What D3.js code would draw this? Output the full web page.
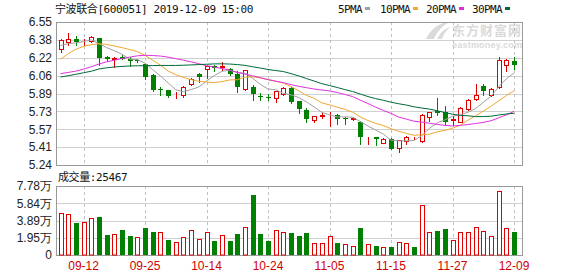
<!DOCTYPE html>
<html>
<head>
<meta charset="utf-8">
<script src="https://cdn.jsdelivr.net/npm/d3@7"></script>
<style>
  body { margin: 0; background: #fff; }
  svg { display: block; }
</style>
</head>
<body>
<svg width="578" height="276"></svg>
<script>
const dates = ["09-09","09-10","09-11","09-12","09-16","09-17","09-18","09-19","09-20","09-23",
  "09-24","09-25","09-26","09-27","09-30","10-08","10-09","10-10","10-11","10-14",
  "10-15","10-16","10-17","10-18","10-21","10-22","10-23","10-24","10-25","10-28",
  "10-29","10-30","10-31","11-01","11-04","11-05","11-06","11-07","11-08","11-11",
  "11-12","11-13","11-14","11-15","11-18","11-19","11-20","11-21","11-22","11-25",
  "11-26","11-27","11-28","11-29","12-02","12-03","12-04","12-05","12-06","12-09"];

const open = [6.303,6.367,6.394,6.375,6.376,6.40,6.232,6.21,6.225,6.21,
  6.20,6.165,6.062,5.935,5.925,5.87,5.884,5.982,6.07,6.117,
  6.15,6.14,6.12,6.07,5.94,5.95,5.875,5.867,5.855,5.895,
  5.945,5.825,5.74,5.655,5.692,5.698,5.70,5.675,5.662,5.635,
  5.495,5.497,5.445,5.48,5.395,5.46,5.486,5.46,5.68,5.738,
  5.725,5.655,5.635,5.757,5.848,5.965,5.88,5.952,6.155,6.19];
const high = [6.394,6.446,6.424,6.394,6.42,6.40,6.24,6.23,6.245,6.23,
  6.215,6.17,6.07,5.955,5.93,5.91,5.96,6.04,6.08,6.15,
  6.16,6.18,6.13,6.10,6.11,5.97,5.90,5.89,5.92,5.955,
  5.95,5.83,5.76,5.69,5.72,5.73,5.71,5.68,5.68,5.64,
  5.50,5.50,5.485,5.49,5.47,5.51,5.50,5.71,5.73,5.855,
  5.78,5.69,5.775,5.845,5.98,5.985,5.945,6.23,6.21,6.23];
const low = [6.278,6.339,6.339,6.339,6.37,6.156,6.19,6.14,6.21,6.15,
  6.18,6.03,5.92,5.88,5.865,5.855,5.865,5.97,6.00,6.04,
  6.10,6.11,6.06,5.91,5.93,5.84,5.84,5.84,5.82,5.885,
  5.81,5.715,5.635,5.63,5.675,5.60,5.62,5.62,5.65,5.435,
  5.43,5.425,5.44,5.385,5.36,5.43,5.475,5.455,5.645,5.70,
  5.62,5.605,5.63,5.745,5.84,5.88,5.875,5.945,6.10,6.12];
const close = [6.385,6.394,6.364,6.378,6.41,6.217,6.208,6.22,6.215,6.19,
  6.195,6.043,5.924,5.93,5.872,5.875,5.952,6.025,6.05,6.144,
  6.125,6.145,6.075,5.95,6.11,5.89,5.87,5.862,5.915,5.945,
  5.82,5.75,5.66,5.685,5.697,5.702,5.66,5.662,5.667,5.495,
  5.50,5.475,5.476,5.39,5.466,5.50,5.488,5.70,5.725,5.717,
  5.635,5.66,5.765,5.84,5.884,5.92,5.935,6.20,6.205,6.155];
const volume = [47900,46000,36300,37400,41200,42700,22500,23600,28100,21300,
  19800,30300,25800,25800,16900,14600,20200,28100,18000,25800,
  15700,22500,15700,23600,31500,67400,23600,15700,28100,25800,
  24700,21300,24700,13500,13500,21300,13500,12400,10100,30300,
  12400,10100,9000,9000,14600,13500,9000,56200,25800,27000,
  29200,16900,25800,25800,31500,27000,21300,71900,30300,25467];

const ma5 = [6.336,6.350,6.360,6.370,6.386,6.353,6.315,6.287,6.254,6.210,
  6.206,6.173,6.113,6.056,5.993,5.929,5.911,5.931,5.955,6.009,
  6.059,6.098,6.108,6.088,6.081,6.034,5.979,5.936,5.929,5.896,
  5.882,5.858,5.818,5.772,5.722,5.699,5.681,5.681,5.678,5.637,
  5.597,5.560,5.523,5.467,5.461,5.461,5.464,5.509,5.576,5.626,
  5.653,5.687,5.700,5.723,5.757,5.814,5.869,5.956,6.029,6.083];
const ma10 = [6.208,6.260,6.300,6.327,6.342,6.350,6.345,6.330,6.315,6.298,
  6.279,6.244,6.200,6.155,6.101,6.067,6.042,6.022,6.006,6.001,
  5.994,6.004,6.019,6.021,6.045,6.047,6.038,6.022,6.009,5.989,
  5.958,5.919,5.877,5.851,5.809,5.791,5.770,5.750,5.725,5.680,
  5.648,5.620,5.602,5.572,5.549,5.529,5.512,5.516,5.522,5.544,
  5.557,5.576,5.605,5.650,5.691,5.733,5.778,5.828,5.876,5.920];
const ma20 = [6.077,6.088,6.100,6.118,6.140,6.165,6.185,6.200,6.215,6.228,
  6.240,6.245,6.243,6.238,6.228,6.214,6.200,6.185,6.168,6.150,
  6.137,6.124,6.110,6.088,6.073,6.057,6.040,6.022,6.007,5.995,
  5.976,5.961,5.948,5.936,5.927,5.919,5.904,5.886,5.867,5.834,
  5.803,5.770,5.740,5.712,5.679,5.660,5.641,5.633,5.623,5.612,
  5.603,5.598,5.603,5.611,5.620,5.631,5.645,5.672,5.699,5.732];
const ma30 = [6.046,6.058,6.071,6.085,6.099,6.120,6.130,6.138,6.143,6.147,
  6.149,6.150,6.151,6.152,6.152,6.152,6.154,6.157,6.160,6.163,
  6.166,6.167,6.165,6.160,6.153,6.140,6.128,6.115,6.105,6.096,
  6.077,6.056,6.032,6.009,5.985,5.968,5.950,5.931,5.913,5.890,
  5.867,5.848,5.833,5.815,5.801,5.789,5.773,5.762,5.752,5.737,
  5.721,5.705,5.695,5.691,5.683,5.684,5.687,5.698,5.707,5.714];

const priceTickLabels = ["5.24","5.41","5.57","5.73","5.89","6.06","6.22","6.38","6.55"];
const volTickLabels = ["0","1.95万","3.89万","5.84万","7.78万"];
const xTickLabels = ["09-12","09-25","10-14","10-24","11-05","11-15","11-27","12-09"];
const maNames = ["5PMA","10PMA","20PMA","30PMA"];

const title = "宁波联合[600051] 2019-12-09 15:00";
const volTitle = "成交量:25467";

const PRICE_MIN = 5.24, PRICE_MAX = 6.55, VOL_MAX = 77800;
const LEFT = 56, RIGHT = 522,
      PRICE_TOP = 22, PRICE_BOTTOM = 165,
      VOL_TOP = 186, VOL_BOTTOM = 255;
const RED = "#e00000", GREEN = "#008000";
const maColors = ["#a0a0a0", "#f0a830", "#e030e0", "#006a3a"];
const AXIS_FONT = "'Liberation Sans', Arial, sans-serif";
const MONO_FONT = "'DejaVu Sans Mono', 'Noto Sans CJK SC', monospace";

const svg = d3.select("svg");

const x = d3.scalePoint().domain(dates).range([60.5, 514]);
const y = d3.scaleLinear().domain([PRICE_MIN, PRICE_MAX]).range([PRICE_BOTTOM, PRICE_TOP]);
const yv = d3.scaleLinear().domain([0, VOL_MAX]).range([VOL_BOTTOM, VOL_TOP]);

const px = i => Math.round(x(dates[i]));   // pixel column of a bar
const crisp = v => Math.round(v) + 0.5;

// watermark
const wm = svg.append("g").attr("fill", "#dadada");
wm.append("path")
  .attr("d", "M426,39 C430,30 438,23 449,22 C441,27 437,32 434,39 Z M437,39 C440,33 444,29 450,27 C446,31 443,35 442,39 Z");
wm.append("text").attr("x", 452).attr("y", 35)
  .attr("font-family", "'Noto Sans CJK SC', sans-serif").attr("font-size", 13).attr("font-weight", "bold")
  .attr("textLength", 69).text("东方财富网");
wm.append("text").attr("x", 452).attr("y", 48)
  .attr("font-family", AXIS_FONT).attr("font-size", 9).attr("font-weight", "bold")
  .attr("textLength", 70).text("eastmoney.com");

// grids
function grid(yScale, vals, top, bottom) {
  const g = svg.append("g");
  g.selectAll("line.h").data(vals).join("line")
    .attr("x1", LEFT).attr("x2", RIGHT)
    .attr("y1", d => crisp(yScale(d))).attr("y2", d => crisp(yScale(d)))
    .attr("stroke", "#d0d0d0");
  g.selectAll("line.v").data(xTickLabels).join("line")
    .attr("x1", d => crisp(x(d))).attr("x2", d => crisp(x(d)))
    .attr("y1", top).attr("y2", bottom)
    .attr("stroke", "#c0c0c0").attr("stroke-dasharray", "3,3");
  g.append("rect")
    .attr("x", LEFT + 0.5).attr("y", top + 0.5)
    .attr("width", RIGHT - LEFT).attr("height", bottom - top)
    .attr("fill", "none").attr("stroke", "#999");
}
const priceTicks = priceTickLabels.map((t, i) => PRICE_MIN + i * (PRICE_MAX - PRICE_MIN) / 8);
const volTicks = volTickLabels.map((t, i) => i * VOL_MAX / 4);
grid(y, priceTicks, PRICE_TOP, PRICE_BOTTOM);
grid(yv, volTicks, VOL_TOP, VOL_BOTTOM);

// candles
const idx = d3.range(dates.length);
const candles = svg.append("g");
candles.selectAll("line").data(idx).join("line")
  .attr("x1", i => px(i) + 0.5).attr("x2", i => px(i) + 0.5)
  .attr("y1", i => Math.round(y(high[i]))).attr("y2", i => Math.round(y(low[i])) + 1)
  .attr("stroke", i => close[i] >= open[i] ? RED : GREEN);
candles.selectAll("rect").data(idx).join("rect")
  .each(function(i) {
    const up = close[i] >= open[i];
    let top = Math.round(y(Math.max(open[i], close[i])));
    let bot = Math.round(y(Math.min(open[i], close[i])));
    if (up) {
      d3.select(this)
        .attr("x", px(i) - 1.5).attr("width", 4)
        .attr("y", top + 0.5).attr("height", Math.max(bot - top, 0))
        .attr("fill", "#fff").attr("stroke", RED);
    } else {
      d3.select(this)
        .attr("x", px(i) - 2).attr("width", 5)
        .attr("y", top).attr("height", Math.max(bot - top, 1))
        .attr("fill", GREEN);
    }
  });

// moving averages
const line = d3.line().x((d, i) => x(dates[i])).y(d => y(d));
[ma5, ma10, ma20, ma30].forEach((s, k) => {
  svg.append("path").datum(s)
    .attr("fill", "none").attr("stroke", maColors[k]).attr("stroke-width", 1)
    .attr("d", line);
});

// volume (colour by close vs previous close)
const volUp = i => close[i] >= (i > 0 ? close[i - 1] : open[i]);
svg.append("g").selectAll("rect").data(idx).join("rect")
  .each(function(i) {
    const top = Math.round(yv(volume[i]));
    if (volUp(i)) {
      d3.select(this)
        .attr("x", px(i) - 1.5).attr("width", 4)
        .attr("y", top + 0.5).attr("height", VOL_BOTTOM - top - 0.5)
        .attr("fill", "#fff").attr("stroke", RED);
    } else {
      d3.select(this)
        .attr("x", px(i) - 2).attr("width", 5)
        .attr("y", top).attr("height", VOL_BOTTOM - top)
        .attr("fill", GREEN);
    }
  });

// axis labels
svg.append("g").selectAll("text").data(priceTicks).join("text")
  .attr("x", 52).attr("y", d => y(d)).attr("dy", "0.36em")
  .attr("text-anchor", "end").attr("font-family", AXIS_FONT).attr("font-size", 12)
  .attr("fill", "#222").text((d, i) => priceTickLabels[i]);
svg.append("g").selectAll("text").data(volTicks).join("text")
  .attr("x", 52).attr("y", d => yv(d)).attr("dy", "0.36em")
  .attr("text-anchor", "end").attr("font-family", AXIS_FONT).attr("font-size", 12)
  .attr("fill", "#222").text((d, i) => volTickLabels[i]);
svg.append("g").selectAll("text").data(xTickLabels).join("text")
  .attr("x", d => x(d)).attr("y", 270)
  .attr("text-anchor", "middle").attr("font-family", AXIS_FONT).attr("font-size", 12)
  .attr("fill", "#d00000").text(d => d);

// header texts
svg.append("text").attr("x", 55).attr("y", 13)
  .attr("font-family", MONO_FONT).attr("font-size", 11).attr("letter-spacing", -0.4)
  .attr("fill", "#111").text(title);
svg.append("text").attr("x", 58).attr("y", 181)
  .attr("font-family", MONO_FONT).attr("font-size", 11).attr("letter-spacing", -0.4)
  .attr("fill", "#111").text(volTitle);

// legend
const legendX = [338, 380, 426, 472];
const leg = svg.append("g").selectAll("g").data(maNames).join("g")
  .attr("transform", (d, i) => `translate(${legendX[i]},0)`);
leg.append("text").attr("y", 13)
  .attr("font-family", MONO_FONT).attr("font-size", 11).attr("letter-spacing", -0.6)
  .attr("fill", "#111").text(d => d);
leg.append("rect")
  .attr("x", d => d.length * 6 + 3).attr("y", 7).attr("width", 5).attr("height", 3)
  .attr("fill", (d, i) => maColors[i]);
</script>
</body>
</html>
